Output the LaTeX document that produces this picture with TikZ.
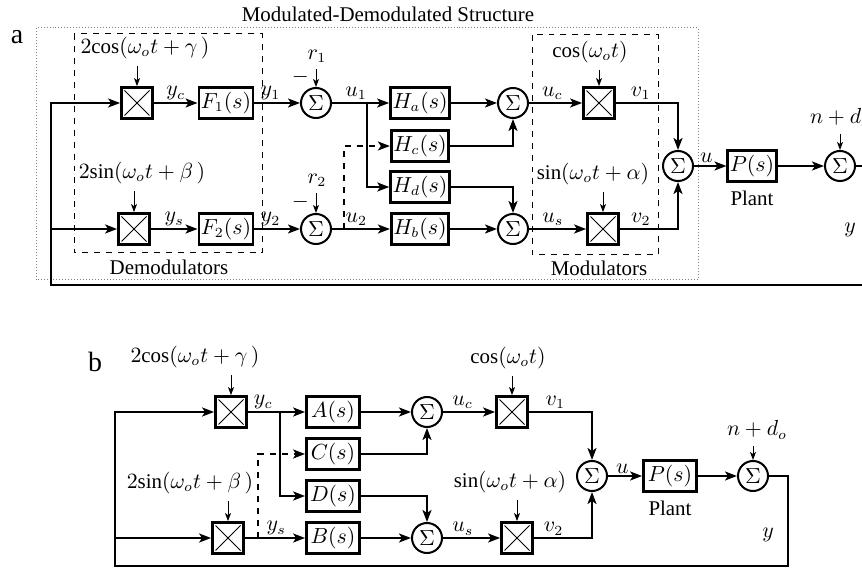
\documentclass[tikz,border=0pt]{standalone}
\usepackage{fontspec}
\setmainfont{Liberation Serif}
\usetikzlibrary{arrows.meta}

\newcommand*{\picw}{862}
\newcommand*{\pich}{569}

\begin{document}
\begin{tikzpicture}
[
	x=0.5bp, y=-0.5bp,
	every node/.style={font=\fontsize{10.5}{12}\selectfont},
	block/.style={draw, line width=1.4bp, minimum width=26.5bp, minimum height=15.5bp, inner sep=1bp},
	mult/.style={draw, line width=1.4bp, minimum size=15.5bp, inner sep=0pt,
		path picture={\draw[line width=0.5bp]
			([shift={(1.5bp,1.5bp)}]path picture bounding box.south west) -- ([shift={(-1.5bp,-1.5bp)}]path picture bounding box.north east)
			([shift={(1.5bp,-1.5bp)}]path picture bounding box.north west) -- ([shift={(-1.5bp,1.5bp)}]path picture bounding box.south east);}},
	sumpt/.style={draw, circle, line width=1bp, minimum size=15bp, inner sep=0pt},
	sig/.style={line width=1bp, -{Stealth[length=6bp,width=4.5bp,inset=1.5bp]}},
	inp/.style={line width=0.5bp, -{Stealth[length=4bp,width=3bp,inset=1bp]}},
	lbl/.style={inner sep=1bp}
]

	\clip (0,0) rectangle (\picw,\pich);

	%%%%%%%%%%%%%%%% part a %%%%%%%%%%%%%%%%

	% frames
	\draw[densely dotted, gray, line width=0.5bp] (36,28) rectangle (698,280);
	\draw[dashed, line width=0.5bp] (74,34) rectangle (262,253);
	\draw[dashed, line width=0.5bp] (532,35) rectangle (658,255);
	\node (titleA) at (388,14) {Modulated-Demodulated Structure};
	\node (demodA) at (169,267) {Demodulators};
	\node (modulA) at (599,268) {Modulators};
	\node[font=\fontsize{14}{16}\selectfont] (tagA) at (17,37) {a};

	% blocks
	\node[mult] (demA1) at (137,103) {};
	\node[mult] (demA2) at (134,229) {};
	\node[block] (F1) at (226,103) {$F_1(s)$};
	\node[block] (F2) at (226,229) {$F_2(s)$};
	\node[sumpt] (sumA1) at (316,103) {$\Sigma$};
	\node[sumpt] (sumA2) at (316,229) {$\Sigma$};
	\node[block] (Ha) at (420,103) {$H_a(s)$};
	\node[block] (Hc) at (420,146) {$H_c(s)$};
	\node[block] (Hd) at (420,187) {$H_d(s)$};
	\node[block] (Hb) at (420,229) {$H_b(s)$};
	\node[sumpt] (sumA3) at (513,103) {$\Sigma$};
	\node[sumpt] (sumA4) at (513,229) {$\Sigma$};
	\node[mult] (modA1) at (599,103) {};
	\node[mult] (modA2) at (603,229) {};
	\node[sumpt] (sumUA) at (678,166) {$\Sigma$};
	\node[block, minimum width=21.5bp] (PA) at (752,166) {$P(s)$};
	\node (plantA) at (752,198) {Plant};
	\node[sumpt] (sumYA) at (840,166) {$\Sigma$};

	% inputs
	\node (gA) at (145,48) {$2\mathrm{cos}(\omega_o t+\gamma\,)$};
	\node (bA) at (142,173) {$2\mathrm{sin}(\omega_o t+\beta\,)$};
	\node (rA1) at (317,56) {$r_1$};
	\node (rA2) at (317,180) {$r_2$};
	\node (cA) at (590,52) {$\cos(\omega_o t)$};
	\node (sA) at (593,174) {$\sin(\omega_o t+\alpha)$};
	\node (ndA) at (840,118) {$n+d_o$};
	\node (yA) at (850,230) {$y$};

	\draw[inp] (gA.south -| demA1) -- (demA1);
	\draw[inp] (bA.south -| demA2) -- (demA2);
	\draw[inp] (rA1.south -| sumA1) -- node[left, pos=0.45]{$-$} (sumA1);
	\draw[inp] (rA2.south -| sumA2) -- node[left, pos=0.45]{$-$} (sumA2);
	\draw[inp] (cA.south -| modA1) -- (modA1);
	\draw[inp] (sA.south -| modA2) -- (modA2);
	\draw[inp] (ndA.south -| sumYA) -- (sumYA);

	% signals
	\coordinate (brA1) at (367,103);
	\coordinate (brA2) at (344,229);
	\coordinate (fbaR) at (900,285);
	\coordinate (fbaL) at (51,285);

	\draw[sig] (demA1) -- node[above,lbl]{$y_c$} (F1);
	\draw[sig] (demA2) -- node[above,lbl]{$y_s$} (F2);
	\draw[sig] (F1) -- node[above,lbl,pos=0.35]{$y_1$} (sumA1);
	\draw[sig] (F2) -- node[above,lbl,pos=0.35]{$y_2$} (sumA2);
	\draw[sig] (sumA1) -- node[above,lbl,pos=0.42]{$u_1$} (Ha);
	\draw[sig] (sumA2) -- node[above,lbl,pos=0.42]{$u_2$} (Hb);
	\draw[sig] (brA1) |- (Hd);
	\draw[sig, dashed] (brA2) |- (Hc);
	\draw[sig] (Ha) -- (sumA3);
	\draw[sig] (Hb) -- (sumA4);
	\draw[sig] (Hc) -| (sumA3);
	\draw[sig] (Hd) -| (sumA4);
	\draw[sig] (sumA3) -- node[above,lbl,pos=0.44]{$u_c$} (modA1);
	\draw[sig] (sumA4) -- node[above,lbl,pos=0.42]{$u_s$} (modA2);
	\draw[sig] (modA1) -| node[above,lbl,pos=0.2]{$v_1$} (sumUA);
	\draw[sig] (modA2) -| node[above,lbl,pos=0.18]{$v_2$} (sumUA);
	\draw[sig] (sumUA) -- node[above,lbl,pos=0.38]{$u$} (PA);
	\draw[sig] (PA) -- (sumYA);

	% feedback
	\draw[sig] (sumYA) -| (fbaR) -- (fbaL) |- (demA1);
	\draw[sig] (fbaL |- demA2) -- (demA2);

	%%%%%%%%%%%%%%%% part b %%%%%%%%%%%%%%%%

	\node[font=\fontsize{14}{16}\selectfont] (tagB) at (95,362) {b};

	% blocks
	\node[mult] (demB1) at (231,412) {};
	\node[mult] (demB2) at (228,538) {};
	\node[block] (Ab) at (333,412) {$A(s)$};
	\node[block] (Cb) at (333,454) {$C(s)$};
	\node[block] (Db) at (333,496) {$D(s)$};
	\node[block] (Bb) at (333,538) {$B(s)$};
	\node[sumpt] (sumB1) at (427,412) {$\Sigma$};
	\node[sumpt] (sumB2) at (427,538) {$\Sigma$};
	\node[mult] (modB1) at (512,412) {};
	\node[mult] (modB2) at (517,538) {};
	\node[sumpt] (sumUB) at (592,476) {$\Sigma$};
	\node[block] (PB) at (670,476) {$P(s)$};
	\node (plantB) at (670,508) {Plant};
	\node[sumpt] (sumYB) at (753,476) {$\Sigma$};

	% inputs
	\node (gB) at (195,357) {$2\mathrm{cos}(\omega_o t+\gamma\,)$};
	\node (bB) at (190,483) {$2\mathrm{sin}(\omega_o t+\beta\,)$};
	\node (cB) at (508,358) {$\cos(\omega_o t)$};
	\node (sB) at (510,482) {$\sin(\omega_o t+\alpha)$};
	\node (ndB) at (757,430) {$n+d_o$};
	\node (yB) at (768,535) {$y$};

	\draw[inp] (gB.south -| demB1) -- (demB1);
	\draw[inp] (bB.south -| demB2) -- (demB2);
	\draw[inp] (cB.south -| modB1) -- (modB1);
	\draw[inp] (sB.south -| modB2) -- (modB2);
	\draw[inp] (ndB.south -| sumYB) -- (sumYB);

	% signals
	\coordinate (brB1) at (280,412);
	\coordinate (brB2) at (258,538);
	\coordinate (fbbR) at (788,566);
	\coordinate (fbbL) at (115,566);

	\draw[sig] (demB1) -- node[above,lbl,pos=0.27]{$y_c$} (Ab);
	\draw[sig] (demB2) -- node[above,lbl,pos=0.52]{$y_s$} (Bb);
	\draw[sig] (brB1) |- (Db);
	\draw[sig, dashed] (brB2) |- (Cb);
	\draw[sig] (Ab) -- (sumB1);
	\draw[sig] (Bb) -- (sumB2);
	\draw[sig] (Cb) -| (sumB1);
	\draw[sig] (Db) -| (sumB2);
	\draw[sig] (sumB1) -- node[above,lbl,pos=0.38]{$u_c$} (modB1);
	\draw[sig] (sumB2) -- node[above,lbl,pos=0.35]{$u_s$} (modB2);
	\draw[sig] (modB1) -| node[above,lbl,pos=0.21]{$v_1$} (sumUB);
	\draw[sig] (modB2) -| node[above,lbl,pos=0.17]{$v_2$} (sumUB);
	\draw[sig] (sumUB) -- node[above,lbl,pos=0.42]{$u$} (PB);
	\draw[sig] (PB) -- (sumYB);

	% feedback
	\draw[sig] (sumYB) -| (fbbR) -- (fbbL) |- (demB1);
	\draw[sig] (fbbL |- demB2) -- (demB2);

\end{tikzpicture}
\end{document}
